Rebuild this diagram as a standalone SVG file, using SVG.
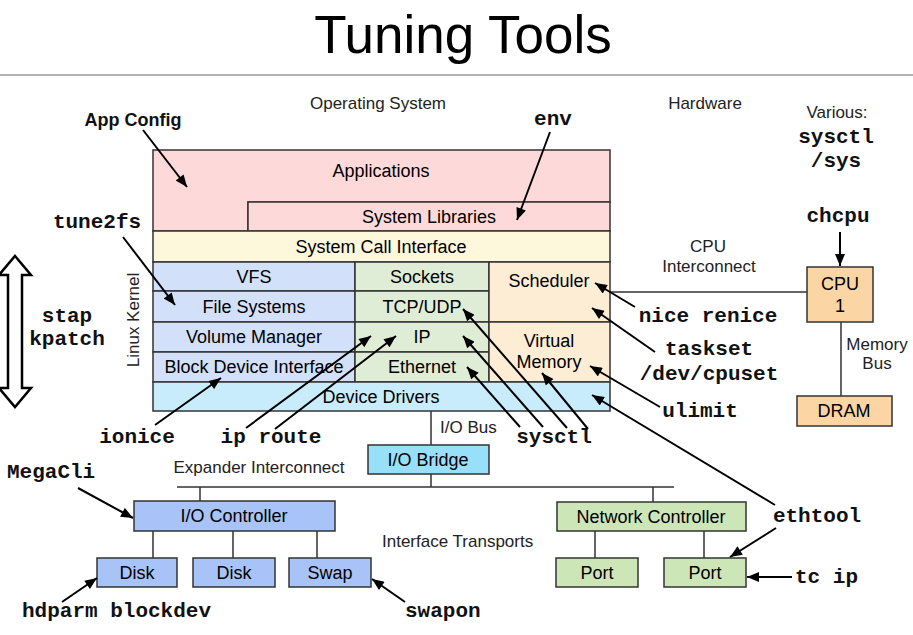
<svg xmlns="http://www.w3.org/2000/svg" width="913" height="635" viewBox="0 0 913 635">
<style>
.box{stroke:#333;stroke-width:1.5}
.lbl{font-family:"Liberation Sans",Arial,sans-serif;font-size:18px;fill:#000;text-anchor:middle}
.ann{font-family:"Liberation Sans",Arial,sans-serif;font-size:17px;fill:#222}
.mono{font-family:"Liberation Mono","Courier New",monospace;font-size:21px;font-weight:bold;fill:#111}
.bus{stroke:#333;stroke-width:1.5;fill:none}
.arr{stroke:#000;stroke-width:2;fill:none;marker-end:url(#ah)}
.pink{fill:#fdd9d9}.yel{fill:#fdf7dc}.blu{fill:#d3e0fa}.grn{fill:#e0edd6}.org{fill:#fdedd5}.cyn{fill:#c8ecfb}
.brg{fill:#98e0f9}.ioc{fill:#a8c3f7}.net{fill:#cde6b8}.hw{fill:#fcd5a4}
</style>
<defs>
<marker id="ah" viewBox="0 0 12 10" refX="12" refY="5" markerWidth="13" markerHeight="10" markerUnits="userSpaceOnUse" orient="auto">
<path d="M0,0 L12,5 L0,10 z" fill="#000"/>
</marker>
</defs>
<rect width="913" height="635" fill="#fff"/>
<g id="title">
<text x="463" y="53" font-family="Liberation Sans,Arial,sans-serif" font-size="53" text-anchor="middle" fill="#000">Tuning Tools</text>
<line x1="0" y1="75" x2="913" y2="75" stroke="#999" stroke-width="1.5"/>
</g>
<g id="section-labels">
<text class="ann" x="378" y="109" text-anchor="middle">Operating System</text>
<text class="ann" x="705" y="109" text-anchor="middle">Hardware</text>
<text class="ann" x="837" y="118" text-anchor="middle">Various:</text>
<text class="ann" transform="translate(139,320) rotate(-90)" text-anchor="middle" font-size="16">Linux Kernel</text>
<text class="ann" x="708" y="252" text-anchor="middle">CPU</text>
<text class="ann" x="709" y="272" text-anchor="middle">Interconnect</text>
<text class="ann" x="877" y="350" text-anchor="middle">Memory</text>
<text class="ann" x="877" y="369" text-anchor="middle">Bus</text>
<text class="ann" x="440" y="433">I/O Bus</text>
<text class="ann" x="259" y="473" text-anchor="middle">Expander Interconnect</text>
<text class="ann" x="382" y="547">Interface Transports</text>
</g>
<g id="applications"><path class="box pink" d="M153,150 H610 V202 H248 V231 H153 Z"/><text class="lbl" x="381" y="177">Applications</text></g>
<g id="system-libraries"><rect class="box pink" x="248" y="202" width="362" height="29"/><text class="lbl" x="429" y="223">System Libraries</text></g>
<g id="syscall"><rect class="box yel" x="153" y="231" width="457" height="31"/><text class="lbl" x="381" y="253">System Call Interface</text></g>
<g id="vfs"><rect class="box blu" x="153" y="262" width="202" height="29"/><text class="lbl" x="254" y="283">VFS</text></g>
<g id="file-systems"><rect class="box blu" x="153" y="291" width="202" height="31"/><text class="lbl" x="254" y="313">File Systems</text></g>
<g id="volume-manager"><rect class="box blu" x="153" y="322" width="202" height="30"/><text class="lbl" x="254" y="343">Volume Manager</text></g>
<g id="block-device"><rect class="box blu" x="153" y="352" width="202" height="30"/><text class="lbl" x="254" y="373">Block Device Interface</text></g>
<g id="sockets"><rect class="box grn" x="355" y="262" width="134" height="29"/><text class="lbl" x="422" y="283">Sockets</text></g>
<g id="tcp-udp"><rect class="box grn" x="355" y="291" width="134" height="31"/><text class="lbl" x="422" y="313">TCP/UDP</text></g>
<g id="ip"><rect class="box grn" x="355" y="322" width="134" height="30"/><text class="lbl" x="422" y="343">IP</text></g>
<g id="ethernet"><rect class="box grn" x="355" y="352" width="134" height="30"/><text class="lbl" x="422" y="373">Ethernet</text></g>
<g id="scheduler"><rect class="box org" x="489" y="262" width="121" height="60"/><text class="lbl" x="549" y="287">Scheduler</text></g>
<g id="virtual-memory"><rect class="box org" x="489" y="322" width="121" height="60"/><text class="lbl" x="549" y="347">Virtual</text><text class="lbl" x="549" y="368">Memory</text></g>
<g id="device-drivers"><rect class="box cyn" x="153" y="382" width="457" height="29"/><text class="lbl" x="381" y="403">Device Drivers</text></g>
<g id="io-bridge"><rect class="box brg" x="368" y="445" width="121" height="29"/><text class="lbl" x="428" y="466">I/O Bridge</text></g>
<g id="io-controller"><rect class="box ioc" x="134" y="501" width="201" height="30"/><text class="lbl" x="234" y="522">I/O Controller</text></g>
<g id="disk1"><rect class="box ioc" x="97" y="558" width="80" height="29"/><text class="lbl" x="137" y="579">Disk</text></g>
<g id="disk2"><rect class="box ioc" x="193" y="558" width="82" height="29"/><text class="lbl" x="234" y="579">Disk</text></g>
<g id="swap"><rect class="box ioc" x="289" y="558" width="82" height="29"/><text class="lbl" x="330" y="579">Swap</text></g>
<g id="network-controller"><rect class="box net" x="557" y="502" width="189" height="29"/><text class="lbl" x="651" y="523">Network Controller</text></g>
<g id="port1"><rect class="box net" x="556" y="558" width="82" height="29"/><text class="lbl" x="597" y="579">Port</text></g>
<g id="port2"><rect class="box net" x="664" y="558" width="82" height="29"/><text class="lbl" x="705" y="579">Port</text></g>
<g id="cpu"><rect class="box hw" x="807" y="267" width="66" height="55"/><text class="lbl" x="840" y="290">CPU</text><text class="lbl" x="840" y="312">1</text></g>
<g id="dram"><rect class="box hw" x="797" y="396" width="95" height="30"/><text class="lbl" x="844" y="417">DRAM</text></g>
<g id="stap-arrow">
<path d="M15,256 L31,275 L22,275 L22,388 L31,388 L15,407 L-1,388 L8,388 L8,275 L-1,275 Z" fill="#fff" stroke="#000" stroke-width="2.5" stroke-linejoin="miter"/>
</g>
<g id="tool-labels">
<text x="133" y="126" font-family="Liberation Sans,Arial,sans-serif" font-size="18" font-weight="bold" text-anchor="middle" fill="#111">App Config</text>
<text class="mono" x="553" y="125" text-anchor="middle">env</text>
<text class="mono" x="97" y="228" text-anchor="middle">tune2fs</text>
<text class="mono" x="67" y="322" text-anchor="middle">stap</text>
<text class="mono" x="67" y="345" text-anchor="middle">kpatch</text>
<text class="mono" x="137" y="443" text-anchor="middle">ionice</text>
<text class="mono" x="271" y="443" text-anchor="middle">ip route</text>
<text class="mono" x="554" y="443" text-anchor="middle">sysctl</text>
<text class="mono" x="700" y="417" text-anchor="middle">ulimit</text>
<text class="mono" x="708" y="322" text-anchor="middle">nice renice</text>
<text class="mono" x="709" y="355" text-anchor="middle">taskset</text>
<text class="mono" x="709" y="380" text-anchor="middle">/dev/cpuset</text>
<text class="mono" x="817" y="522" text-anchor="middle">ethtool</text>
<text class="mono" x="795" y="583">tc ip</text>
<text class="mono" x="7" y="478">MegaCli</text>
<text class="mono" x="22" y="617">hdparm blockdev</text>
<text class="mono" x="405" y="617">swapon</text>
<text class="mono" x="836" y="143" text-anchor="middle">sysctl</text>
<text class="mono" x="836" y="167" text-anchor="middle">/sys</text>
<text class="mono" x="838" y="222" text-anchor="middle">chcpu</text>
</g>
<g id="connectors">
<path class="bus" d="M431,411 V445 M431,474 V487 M177,487 H674 M200,487 V501 M653,487 V502 M153,531 V558 M233,531 V558 M317,531 V558 M595,531 V558 M704,531 V558 M610,292 H807 M841,322 V396"/>
<line class="arr" x1="143" y1="130" x2="187" y2="187"/>
<line class="arr" x1="550" y1="132" x2="517" y2="220"/>
<line class="arr" x1="123" y1="237" x2="175" y2="305"/>
<line class="arr" x1="155" y1="425" x2="221" y2="378"/>
<line class="arr" x1="246" y1="428" x2="371" y2="336"/>
<line class="arr" x1="275" y1="429" x2="396" y2="336"/>
<line class="arr" x1="520" y1="427" x2="467" y2="367"/>
<line class="arr" x1="543" y1="427" x2="463" y2="336"/>
<line class="arr" x1="567" y1="428" x2="463" y2="309"/>
<line class="arr" x1="588" y1="429" x2="542" y2="373"/>
<line class="arr" x1="635" y1="307" x2="595" y2="283"/>
<line class="arr" x1="655" y1="352" x2="592" y2="308"/>
<line class="arr" x1="660" y1="407" x2="590" y2="366"/>
<line class="arr" x1="775" y1="505" x2="592" y2="395"/>
<line class="arr" x1="776" y1="528" x2="730" y2="557"/>
<line class="arr" x1="792" y1="577" x2="747" y2="577"/>
<line class="arr" x1="840" y1="232" x2="840" y2="266"/>
<line class="arr" x1="78" y1="488" x2="133" y2="518"/>
<line class="arr" x1="62" y1="602" x2="97" y2="578"/>
<line class="arr" x1="405" y1="602" x2="372" y2="579"/>
</g>
</svg>
